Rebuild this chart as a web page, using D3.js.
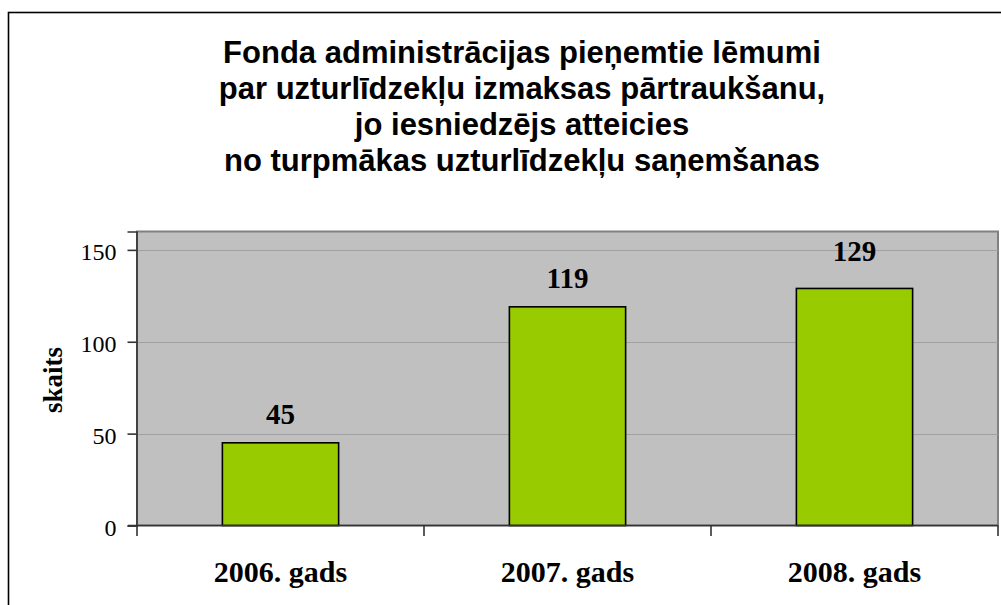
<!DOCTYPE html>
<html>
<head>
<meta charset="utf-8">
<script src="https://cdn.jsdelivr.net/npm/d3@7"></script>
<style>
  html, body { margin: 0; padding: 0; background: #fff; overflow: hidden; }
  svg { display: block; }
</style>
</head>
<body>
<svg id="chart" width="1001" height="605"></svg>
<script>
const titleLines = [
  "Fonda administrācijas pieņemtie lēmumi",
  "par uzturlīdzekļu izmaksas pārtraukšanu,",
  "jo iesniedzējs atteicies",
  "no turpmākas uzturlīdzekļu saņemšanas"
];
const categories = ["2006. gads", "2007. gads", "2008. gads"];
const values = [45, 119, 129];
const yTicks = [0, 50, 100, 150];
const yAxisTitle = "skaits";

const svg = d3.select("#chart");

// outer chart frame (extends beyond window on right/bottom)
svg.append("rect")
  .attr("x", 8.5).attr("y", 12.5)
  .attr("width", 1060).attr("height", 620)
  .attr("fill", "#fff").attr("stroke", "#000").attr("stroke-width", 1.6);

const plot = { left: 137, right: 998, top: 231.5, bottom: 525.5 };

const x = d3.scaleBand().domain(categories).range([plot.left, plot.right]).padding(0);
const y = d3.scaleLinear().domain([0, 160]).range([plot.bottom, plot.top]);

// plot area
svg.append("rect")
  .attr("x", plot.left).attr("y", plot.top)
  .attr("width", plot.right - plot.left).attr("height", plot.bottom - plot.top)
  .attr("fill", "#c0c0c0").attr("stroke", "#808080").attr("stroke-width", 2);

// gridlines
svg.append("g").selectAll("line").data(yTicks.filter(d => d > 0)).join("line")
  .attr("x1", plot.left).attr("x2", plot.right)
  .attr("y1", d => Math.round(y(d)) + 0.5).attr("y2", d => Math.round(y(d)) + 0.5)
  .attr("stroke", "#a0a0a0").attr("stroke-width", 1.2);

// bars
const barW = x.bandwidth() * 0.405;
svg.append("g").selectAll("rect").data(values).join("rect")
  .attr("x", (d, i) => x(categories[i]) + (x.bandwidth() - barW) / 2)
  .attr("y", d => y(d))
  .attr("width", barW)
  .attr("height", d => y(0) - y(d))
  .attr("fill", "#99cc00").attr("stroke", "#000").attr("stroke-width", 1.6);

// y axis
const yAxis = d3.axisLeft(y).tickValues(yTicks).tickSize(9).tickPadding(11);
const gy = svg.append("g").attr("transform", `translate(${plot.left - 0.5},0)`).call(yAxis);
gy.select(".domain").attr("stroke", "#333").attr("stroke-width", 1.6);
gy.selectAll(".tick line").attr("stroke", "#333").attr("stroke-width", 1.6);
gy.selectAll(".tick text")
  .attr("font-family", "'Liberation Serif', 'Times New Roman', serif")
  .attr("font-size", 24).attr("fill", "#000").attr("dy", "0.42em");

// x axis
const xTickPos = categories.map(c => x(c)).concat([plot.right]);
svg.append("line")
  .attr("x1", plot.left - 9).attr("x2", plot.right)
  .attr("y1", plot.bottom).attr("y2", plot.bottom)
  .attr("stroke", "#333").attr("stroke-width", 1.6);
svg.append("g").selectAll("line").data(xTickPos).join("line")
  .attr("x1", d => d).attr("x2", d => d)
  .attr("y1", plot.bottom).attr("y2", plot.bottom + 10.5)
  .attr("stroke", "#333").attr("stroke-width", 1.6);

svg.append("g").selectAll("text").data(categories).join("text")
  .attr("x", d => x(d) + x.bandwidth() / 2)
  .attr("y", 581.5)
  .attr("text-anchor", "middle")
  .attr("font-family", "'Liberation Serif', 'Times New Roman', serif")
  .attr("font-weight", "bold").attr("font-size", 30).attr("fill", "#000")
  .text(d => d);

// value labels
const extraLift = { "2008. gads": 9 };
svg.append("g").selectAll("text").data(values).join("text")
  .attr("x", (d, i) => x(categories[i]) + x.bandwidth() / 2)
  .attr("y", (d, i) => y(d) - 18.5 - (extraLift[categories[i]] || 0))
  .attr("text-anchor", "middle")
  .attr("font-family", "'Liberation Serif', 'Times New Roman', serif")
  .attr("font-weight", "bold").attr("font-size", 29).attr("fill", "#000")
  .text(d => d);

// y axis title
svg.append("text")
  .attr("transform", "translate(61.5,380) rotate(-90)")
  .attr("text-anchor", "middle")
  .attr("font-family", "'Liberation Serif', 'Times New Roman', serif")
  .attr("font-weight", "bold").attr("font-size", 27).attr("fill", "#000")
  .text(yAxisTitle);

// title
svg.append("g").selectAll("text").data(titleLines).join("text")
  .attr("x", 522)
  .attr("y", (d, i) => 62.5 + i * 36)
  .attr("text-anchor", "middle")
  .attr("font-family", "'Liberation Sans', Arial, sans-serif")
  .attr("font-weight", "bold").attr("font-size", 31).attr("fill", "#000")
  .text(d => d);
</script>
</body>
</html>
